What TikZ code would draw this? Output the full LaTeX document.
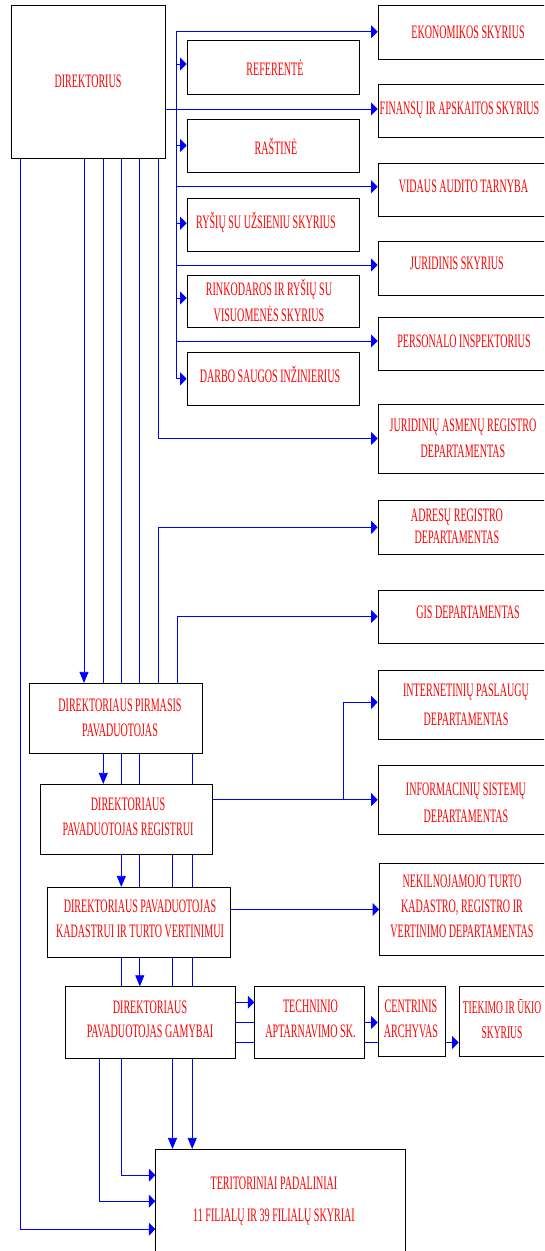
\documentclass[tikz,border=0pt]{standalone}
\usepackage{fontspec}
\newfontfamily\cf{Liberation Serif}[FakeStretch=0.53]
\usetikzlibrary{arrows.meta}
\pgfdeclarelayer{bg}
\pgfsetlayers{bg,main}
\begin{document}
\begin{tikzpicture}[x=1pt,y=-1pt,
  box/.style={draw=black,line width=0.8pt,fill=white,rectangle,inner sep=0pt},
  txt/.style={text=red,font=\cf\fontsize{19}{26}\selectfont,align=center,inner sep=0pt},
  conn/.style={draw=blue,line width=0.8pt},
  rarr/.style={conn,-{Triangle[length=6.5pt,width=13pt]}},
  darr/.style={conn,-{Triangle[length=11pt,width=9pt]}}]
\clip (0,0) rectangle (544,1251);
% ---------- boxes ----------
\node[box,minimum width=154pt,minimum height=152.5pt] (dir) at (88.5,81.75) {};
\node[box,minimum width=172pt,minimum height=53.3pt] (ref) at (273,67.35) {};
\node[box,minimum width=172pt,minimum height=53pt] (ras) at (273,145.5) {};
\node[box,minimum width=172pt,minimum height=53pt] (rys) at (273,224.8) {};
\node[box,minimum width=172pt,minimum height=52.4pt] (rin) at (273,301.5) {};
\node[box,minimum width=172pt,minimum height=52.3pt] (dar) at (273,378.85) {};
\node[box,minimum width=179pt,minimum height=53.6pt] (eko) at (467.5,32.5) {};
\node[box,minimum width=179pt,minimum height=53pt] (fin) at (467.5,110.8) {};
\node[box,minimum width=179pt,minimum height=53.2pt] (vid) at (467.5,189.9) {};
\node[box,minimum width=179pt,minimum height=53.3pt] (jur) at (467.5,268.35) {};
\node[box,minimum width=179pt,minimum height=53.4pt] (per) at (467.5,344) {};
\node[box,minimum width=179pt,minimum height=69pt] (jar) at (467.5,438.5) {};
\node[box,minimum width=179pt,minimum height=53.3pt] (adr) at (467.5,527.35) {};
\node[box,minimum width=179pt,minimum height=53pt] (gis) at (467.5,616.5) {};
\node[box,minimum width=179pt,minimum height=69.3pt] (int) at (467.5,704.65) {};
\node[box,minimum width=179pt,minimum height=68.7pt] (inf) at (467.5,799.65) {};
\node[box,minimum width=178pt,minimum height=92.4pt] (nek) at (468.5,909.5) {};
\node[box,minimum width=173pt,minimum height=69.7pt] (pir) at (116.2,718.15) {};
\node[box,minimum width=171.7pt,minimum height=69.7pt] (reg) at (126.15,819.15) {};
\node[box,minimum width=182.7pt,minimum height=70pt] (kad) at (138.55,922.3) {};
\node[box,minimum width=169.8pt,minimum height=71.6pt] (gam) at (150.5,1022.5) {};
\node[box,minimum width=110pt,minimum height=71.6pt] (tec) at (309.7,1022.5) {};
\node[box,minimum width=67.7pt,minimum height=69.6pt] (cen) at (411.85,1021.5) {};
\node[box,minimum width=94pt,minimum height=69.6pt] (tie) at (506,1021.5) {};
\node[box,minimum width=249.6pt,minimum height=103.7pt] (ter) at (280.5,1201.15) {};
% ---------- texts ----------
\node[txt] (t-dir) at (88,81.7) {DIREKTORIUS};
\node[txt] (t-ref) at (275,68) {REFERENTĖ};
\node[txt] (t-ras) at (276,146) {RAŠTINĖ};
\node[txt] (t-rys) at (266,222.3) {RYŠIŲ SU UŽSIENIU SKYRIUS};
\node[txt] (t-rin) at (269,300.3) {RINKODAROS IR RYŠIŲ SU\\VISUOMENĖS SKYRIUS};
\node[txt] (t-dar) at (270,374.3) {DARBO SAUGOS INŽINIERIUS};
\node[txt] (t-eko) at (468,32.3) {EKONOMIKOS SKYRIUS};
\node[txt] (t-fin) at (459.5,110) {FINANSŲ IR APSKAITOS SKYRIUS};
\node[txt] (t-vid) at (463.5,186.7) {VIDAUS AUDITO TARNYBA};
\node[txt] (t-jur) at (457,263.3) {JURIDINIS SKYRIUS};
\node[txt] (t-per) at (464,341.7) {PERSONALO INSPEKTORIUS};
\node[txt,font=\cf\fontsize{19}{26.7}\selectfont] (t-jar) at (463,438.3) {JURIDINIŲ ASMENŲ REGISTRO\\DEPARTAMENTAS};
\node[txt,font=\cf\fontsize{19}{22}\selectfont] (t-adr) at (457,525.8) {ADRESŲ REGISTRO\\DEPARTAMENTAS};
\node[txt] (t-gis) at (468,612) {GIS DEPARTAMENTAS};
\node[txt,font=\cf\fontsize{19}{29}\selectfont] (t-int) at (466,704.5) {INTERNETINIŲ PASLAUGŲ\\DEPARTAMENTAS};
\node[txt,font=\cf\fontsize{19}{27.7}\selectfont] (t-inf) at (466,802.8) {INFORMACINIŲ SISTEMŲ\\DEPARTAMENTAS};
\node[txt,font=\cf\fontsize{19}{25}\selectfont] (t-nek) at (462,906.7) {NEKILNOJAMOJO TURTO\\KADASTRO, REGISTRO IR\\VERTINIMO DEPARTAMENTAS};
\node[txt,font=\cf\fontsize{19}{25.7}\selectfont] (t-pir) at (120,717.8) {DIREKTORIAUS PIRMASIS\\PAVADUOTOJAS};
\node[txt,font=\cf\fontsize{19}{25.3}\selectfont] (t-reg) at (128,816.7) {DIREKTORIAUS\\PAVADUOTOJAS REGISTRUI};
\node[txt,font=\cf\fontsize{19}{25}\selectfont] (t-kad) at (140,918.5) {DIREKTORIAUS PAVADUOTOJAS\\KADASTRUI IR TURTO VERTINIMUI};
\node[txt,font=\cf\fontsize{19}{24.4}\selectfont] (t-gam) at (150,1019.5) {DIREKTORIAUS\\PAVADUOTOJAS GAMYBAI};
\node[txt,font=\cf\fontsize{19}{25}\selectfont] (t-tec) at (310.5,1019.2) {TECHNINIO\\APTARNAVIMO SK.};
\node[txt,font=\cf\fontsize{19}{25}\selectfont] (t-cen) at (411,1019.2) {CENTRINIS\\ARCHYVAS};
\node[txt,font=\cf\fontsize{18}{25}\selectfont] (t-tie) at (502,1019.2) {TIEKIMO IR ŪKIO\\SKYRIUS};
\node[txt,font=\cf\fontsize{19}{31.7}\selectfont] (t-ter) at (274,1200.8) {TERITORINIAI PADALINIAI\\11 FILIALŲ IR 39 FILIALŲ SKYRIAI};
% ---------- connectors ----------
\begin{pgfonlayer}{bg}
\coordinate (bt) at (176,31.7);
\coordinate (x20) at (20,0);
\coordinate (x84) at (84,0);
\coordinate (x99) at (99,0);
\coordinate (x103) at (103.3,0);
\coordinate (x121) at (121.3,0);
\coordinate (x140) at (139.8,0);
\coordinate (x158) at (158.2,0);
\coordinate (x172) at (172.5,0);
\coordinate (x177) at (177.3,0);
\coordinate (x192) at (192.2,0);
\coordinate (xb) at (343.8,0);
\coordinate (aref) at ([yshift=3.3pt]ref.west);
\coordinate (afin) at ([yshift=1.8pt]fin.west);
\coordinate (avid) at ([yshift=3.2pt]vid.west);
\coordinate (arys) at ([yshift=1.5pt]rys.west);
\coordinate (ajur) at ([yshift=3.3pt]jur.west);
\coordinate (arin) at ([yshift=3.5pt]rin.west);
\coordinate (aper) at ([yshift=3pt]per.west);
\coordinate (aint) at ([yshift=2.3pt]int.west);
\coordinate (ater1) at ([yshift=26pt]ter.west);
\coordinate (ater3) at ([yshift=-28pt]ter.west);
\coordinate (g1) at ([yshift=20.2pt]gam.east);
\coordinate (g3) at ([yshift=-20pt]gam.east);
% bus from director
\draw[conn] (bt) -- (bt |- dar.west);
\draw[rarr] (bt) -- (bt -| eko.west);
\draw[rarr] (bt |- aref) -- (aref);
\draw[rarr] (dir.east |- afin) -- (afin);
\draw[rarr] (bt |- ras.west) -- (ras.west);
\draw[rarr] (bt |- avid) -- (avid);
\draw[rarr] (bt |- arys) -- (arys);
\draw[rarr] (bt |- ajur) -- (ajur);
\draw[rarr] (bt |- arin) -- (arin);
\draw[rarr] (bt |- aper) -- (aper);
\draw[rarr] (bt |- dar.west) -- (dar.west);
% vertical lines from director
\draw[rarr] (dir.south -| x20) |- (ater3);
\draw[darr] (dir.south -| x84) -- (pir.north -| x84);
\draw[darr] (dir.south -| x103) -- (reg.north -| x103);
\draw[darr] (dir.south -| x121) -- (kad.north -| x121);
\draw[darr] (dir.south -| x140) -- (gam.north -| x140);
\draw[rarr] (dir.south -| x158) |- (jar.west);
% first deputy
\draw[rarr] (pir.north -| x158) |- (adr.west);
\draw[rarr] (pir.north -| x177) |- (gis.west);
\draw[darr] (pir.south -| x192) -- (ter.north -| x192);
% registry deputy
\draw[darr] (reg.south -| x172) -- (ter.north -| x172);
\draw[rarr] (reg.east |- inf.west) -- (inf.west);
\draw[rarr] (xb |- inf.west) |- (aint);
% cadastre deputy
\draw[rarr] (kad.east |- nek.west) -- (nek.west);
\draw[rarr] (kad.south -| x121) |- (ater1);
% production deputy
\draw[rarr] (gam.south -| x99) |- (ter.west);
\draw[rarr] (g1) -- (g1 -| tec.west);
\draw[rarr] (gam.east) -- (gam.east -| cen.west);
\draw[rarr] (g3) -- (g3 -| tie.west);
\end{pgfonlayer}
\end{tikzpicture}
\end{document}
